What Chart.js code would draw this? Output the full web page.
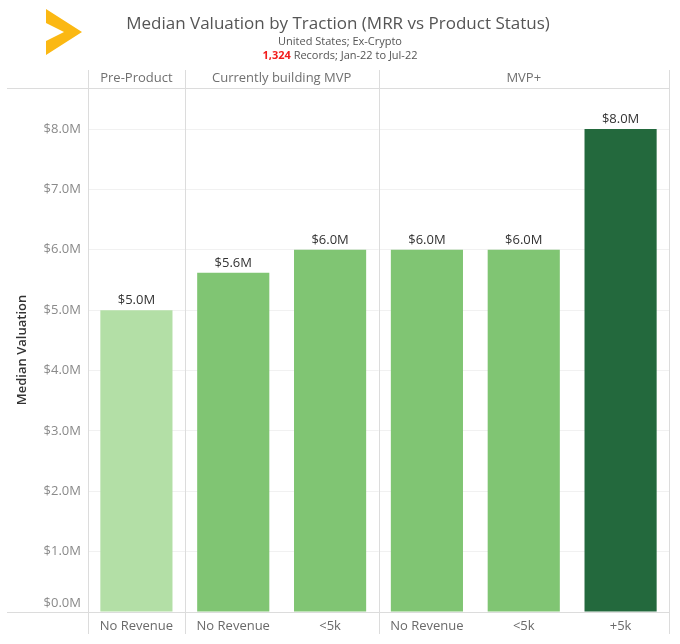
<!DOCTYPE html>
<html>
<head>
<meta charset="utf-8">
<title>Median Valuation by Traction</title>
<script src="https://cdn.jsdelivr.net/npm/chart.js@4.4.1/dist/chart.umd.min.js"></script>
<style>
  html, body { margin: 0; padding: 0; background: #fff; }
  #wrap { position: relative; width: 680px; height: 644px; font-family: "Open Sans", sans-serif; }
  #chart { position: absolute; left: 0; top: 0; }
  #logo { position: absolute; left: 0; top: 0; }
  .head { position: absolute; left: 0; width: 680px; text-align: center; color: #555; white-space: nowrap; }
  #title { top: 11px; font-size: 17px; left: -2px; }
  #sub1 { top: 33px; font-size: 11px; }
  #sub2 { top: 47px; font-size: 11px; }
  #sub2 b { color: #f21d1d; font-weight: 700; }
</style>
</head>
<body>
<div id="wrap">
  <canvas id="chart" width="680" height="644"></canvas>
  <svg id="logo" width="100" height="64">
    <polygon points="46,9 82,32 46,55 46,41 64,32 46,23" fill="#fbb813"/>
  </svg>
  <div class="head" id="title">Median Valuation by Traction (MRR vs Product Status)</div>
  <div class="head" id="sub1">United States; Ex-Crypto</div>
  <div class="head" id="sub2"><b>1,324</b> Records; Jan-22 to Jul-22</div>
</div>
<script>
// Data
const panes = ['Pre-Product', 'Currently building MVP', 'MVP+'];
const paneSizes = [1, 2, 3];
const mrrLabels = ['No Revenue', 'No Revenue', '<5k', 'No Revenue', '<5k', '+5k'];
const valuations = [5.0, 5.62, 6.0, 6.0, 6.0, 8.0]; // $M
const barColors = ['#b3dfa6', '#80c573', '#80c573', '#80c573', '#80c573', '#23693d'];
const yTicks = [0, 1, 2, 3, 4, 5, 6, 7, 8];

const lineColor = '#dcdcdc';
const tickFont = '13px "Open Sans", sans-serif';

function money(v) {
    return '$' + v.toFixed(1) + 'M';
}

// panes, header labels, bar value labels
const paneLayer = {
    id: 'paneLayer',
    afterDatasetsDraw(chart) {
        const ctx = chart.ctx;
        const area = chart.chartArea;
        const x = chart.scales.x;
        const y = chart.scales.y;
        const edge = i => i === 0 ? area.left : (i === mrrLabels.length ? area.right : (x.getPixelForValue(i - 1) + x.getPixelForValue(i)) / 2);

        ctx.save();
        ctx.strokeStyle = lineColor;
        ctx.lineWidth = 1;

        // header bottom + baseline
        [area.top, area.bottom].forEach(py => {
            ctx.beginPath();
            ctx.moveTo(7, Math.round(py) + 0.5);
            ctx.lineTo(area.right, Math.round(py) + 0.5);
            ctx.stroke();
        });

        // pane separators
        let idx = 0;
        const bounds = [0];
        paneSizes.forEach(n => { idx += n; bounds.push(idx); });
        bounds.forEach(b => {
            const px = Math.round(edge(b)) + 0.5;
            ctx.beginPath();
            ctx.moveTo(px, 70);
            ctx.lineTo(px, 634);
            ctx.stroke();
        });

        // pane headers
        ctx.fillStyle = '#707070';
        ctx.font = tickFont;
        ctx.textAlign = 'center';
        ctx.textBaseline = 'middle';
        panes.forEach((p, i) => {
            const cx = (edge(bounds[i]) + edge(bounds[i + 1])) / 2;
            ctx.fillText(p, cx, 78);
        });

        // zero tick label sits a little above the baseline
        ctx.fillStyle = '#8a8a8a';
        ctx.textAlign = 'right';
        ctx.fillText(money(0), area.left - 7, y.getPixelForValue(0) - 9);

        // value labels
        ctx.fillStyle = '#333';
        ctx.textAlign = 'center';
        ctx.textBaseline = 'bottom';
        const meta = chart.getDatasetMeta(0);
        meta.data.forEach((bar, i) => {
            ctx.fillText(money(valuations[i]), bar.x, bar.y - 3);
        });
        ctx.restore();
    }
};

new Chart(document.getElementById('chart'), {
    type: 'bar',
    data: {
        labels: mrrLabels,
        datasets: [{
            data: valuations,
            backgroundColor: barColors,
            borderWidth: 0,
            barPercentage: 0.745,
            categoryPercentage: 1
        }]
    },
    options: {
        responsive: false,
        animation: false,
        events: [],
        layout: { padding: { top: 88, right: 11, left: 0, bottom: 0 } },
        plugins: {
            legend: { display: false },
            tooltip: { enabled: false }
        },
        scales: {
            x: {
                grid: { display: false, drawTicks: false },
                border: { display: false },
                ticks: {
                    color: '#6a6a6a',
                    font: { family: '"Open Sans", sans-serif', size: 13 },
                    padding: 6,
                    maxRotation: 0,
                    autoSkip: false
                },
                afterFit(scale) { scale.height = 32; }
            },
            y: {
                min: 0,
                max: 8.68,
                afterBuildTicks(scale) {
                    scale.ticks = yTicks.map(v => ({ value: v }));
                },
                grid: { color: '#f1f1f1', drawTicks: false },
                border: { display: false },
                ticks: {
                    color: '#8a8a8a',
                    font: { family: '"Open Sans", sans-serif', size: 13 },
                    padding: 7,
                    callback: v => v === 0 ? '' : money(v)
                },
                title: {
                    display: true,
                    text: 'Median Valuation',
                    color: '#333',
                    font: { family: '"Open Sans", sans-serif', size: 13, weight: '600' },
                    padding: { top: 14, bottom: 0 }
                },
                afterFit(scale) { scale.width = 88; }
            }
        }
    },
    plugins: [paneLayer]
});
</script>
</body>
</html>
